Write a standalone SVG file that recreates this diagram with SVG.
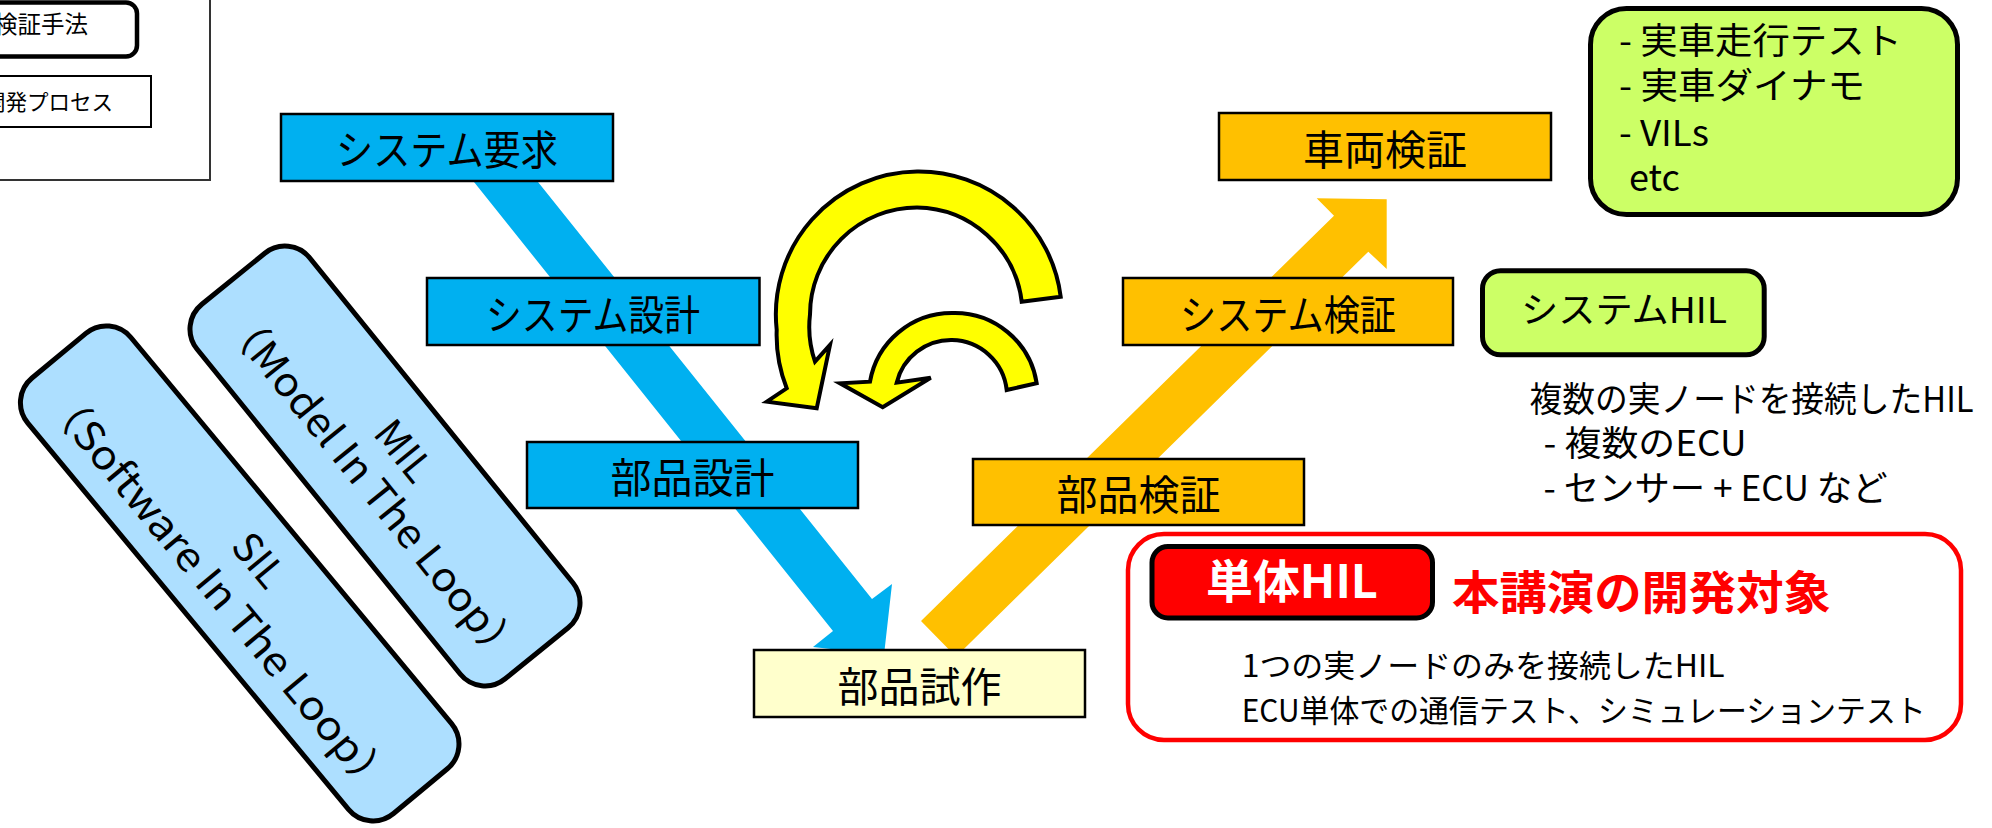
<svg xmlns="http://www.w3.org/2000/svg" width="1992" height="828" viewBox="0 0 1992 828">
<style>
text{font-family:"Noto Sans CJK JP","Noto Sans",sans-serif;fill:#000}
.blue{fill:#00B0F0;stroke:#000;stroke-width:2.5}
.org{fill:#FFC000;stroke:#000;stroke-width:2.5}
.lbl{font-size:41px;text-anchor:middle}
.grn{fill:#CCFF66;stroke:#000;stroke-width:5}
.lb{fill:#ADDFFF;stroke:#000;stroke-width:5}
.yel{fill:#FFFF00;stroke:#000;stroke-width:4;stroke-linejoin:miter}
.gt{font-size:36px}
.rt{font-size:31px}
</style>
<rect width="1992" height="828" fill="#fff"/>

<g id="legend">
<rect x="-10" y="-10" width="220" height="190" fill="#fff" stroke="#333" stroke-width="2"/>
<rect x="-30" y="2.5" width="167" height="54" rx="11" fill="#fff" stroke="#000" stroke-width="4.5"/>
<text x="-6" y="33" font-size="23.5">検証手法</text>
<rect x="-20" y="76" width="171" height="51" fill="#fff" stroke="#000" stroke-width="2"/>
<text x="-16" y="110" font-size="21.5">開発プロセス</text>
</g>

<g id="connectors">
<polygon id="arrow-down" fill="#00B0F0" points="464.4,170 528.4,170 872,599 892,584 884,655 813,647 833,631"/>
<polygon id="arrow-up" fill="#FFC000" points="921,621 1334,215.7 1316.7,198.3 1386.7,199.3 1386.7,269 1368.3,251.7 956,656.7"/>
<path id="loop-big" class="yel" d="M1060.7,296.7 A143,143 0 0 0 917,171.5 A143,143 0 0 0 776.7,330 A145,145 0 0 0 786.7,388.3 L766.7,401.7 L816.7,408.3 L830,345 L815,361.7 A107,107 0 0 1 810,314.5 A107,107 0 0 1 917,207.5 A107,107 0 0 1 1021.7,301.7 Z"/>
<path id="loop-small" class="yel" d="M1036.7,383.3 A83,83 0 0 0 952,313 A83,83 0 0 0 870,381.7 L840,383.3 L882.7,407.3 L930.7,377.7 L896.7,382.7 A56,56 0 0 1 952,340 A56,56 0 0 1 1006.7,390 Z"/>
</g>

<g id="n-mil" transform="translate(385,466) rotate(51)">
<rect class="lb" x="-241" y="-72.5" width="482" height="145" rx="32"/>
<text x="0" y="-10" font-size="40" text-anchor="middle">MIL</text>
<text x="9" y="37" font-size="40" text-anchor="middle" textLength="447" lengthAdjust="spacingAndGlyphs">（Model In The Loop）</text>
</g>

<g id="n-sil" transform="translate(239.7,573.4) rotate(50.3)">
<rect class="lb" x="-283" y="-67" width="566" height="134" rx="32"/>
<text x="2" y="-9" font-size="40" text-anchor="middle">SIL</text>
<text x="1" y="42" font-size="40" text-anchor="middle" textLength="519" lengthAdjust="spacingAndGlyphs">（Software In The Loop）</text>
</g>

<g id="n-sys-req">
<rect class="blue" x="281" y="114" width="332" height="67"/>
<text class="lbl" x="447" y="165" textLength="222" lengthAdjust="spacingAndGlyphs">システム要求</text>
</g>
<g id="n-sys-design">
<rect class="blue" x="427" y="278" width="332.5" height="67"/>
<text class="lbl" x="593" y="329.5" textLength="214" lengthAdjust="spacingAndGlyphs">システム設計</text>
</g>
<g id="n-part-design">
<rect class="blue" x="527" y="442" width="331" height="66"/>
<text class="lbl" x="692.5" y="493">部品設計</text>
</g>
<g id="n-prototype">
<rect x="754" y="650" width="331" height="67" fill="#FFFFCC" stroke="#000" stroke-width="2.5"/>
<text class="lbl" x="919.5" y="701.5">部品試作</text>
</g>
<g id="n-part-verify">
<rect class="org" x="973" y="459" width="331" height="66"/>
<text class="lbl" x="1138.5" y="509.5">部品検証</text>
</g>
<g id="n-sys-verify">
<rect class="org" x="1123" y="278" width="330" height="67"/>
<text class="lbl" x="1288" y="329.5" textLength="216" lengthAdjust="spacingAndGlyphs">システム検証</text>
</g>
<g id="n-vehicle-verify">
<rect class="org" x="1219" y="113" width="332" height="67"/>
<text class="lbl" x="1385" y="164.5">車両検証</text>
</g>

<g id="n-vehicle-methods">
<rect class="grn" x="1590.5" y="8.5" width="367" height="206" rx="36"/>
<text class="gt" x="1619" y="54" textLength="283" lengthAdjust="spacingAndGlyphs">- 実車走行テスト</text>
<text class="gt" x="1619" y="99" textLength="246" lengthAdjust="spacingAndGlyphs">- 実車ダイナモ</text>
<text class="gt" x="1619" y="146" textLength="90" lengthAdjust="spacingAndGlyphs">- VILs</text>
<text class="gt" x="1629" y="191">etc</text>
</g>

<g id="n-system-hil">
<rect class="grn" x="1482.5" y="270.8" width="281.7" height="84" rx="18"/>
<text class="gt" x="1624" y="323" text-anchor="middle" textLength="206" lengthAdjust="spacingAndGlyphs">システムHIL</text>
</g>

<g id="n-system-hil-desc">
<text font-size="35" x="1529.5" y="411.5" textLength="444" lengthAdjust="spacingAndGlyphs">複数の実ノードを接続したHIL</text>
<text font-size="35" x="1543.5" y="456" textLength="203" lengthAdjust="spacingAndGlyphs">- 複数のECU</text>
<text font-size="35" x="1543.5" y="501" textLength="344" lengthAdjust="spacingAndGlyphs">- センサー + ECU など</text>
</g>

<g id="n-unit-hil">
<rect x="1128" y="534" width="833" height="206" rx="36" fill="#fff" stroke="#FF0000" stroke-width="4.5"/>
<rect x="1152" y="546.5" width="280.5" height="71.5" rx="16" fill="#FF0000" stroke="#000" stroke-width="5"/>
<text x="1206" y="598" font-size="46" font-weight="bold" style="fill:#fff" textLength="172" lengthAdjust="spacingAndGlyphs">単体HIL</text>
<text x="1452" y="609" font-size="46" font-weight="bold" style="fill:#FF0000" textLength="379" lengthAdjust="spacingAndGlyphs">本講演の開発対象</text>
<text class="rt" x="1241.7" y="676.5" textLength="483" lengthAdjust="spacingAndGlyphs">1つの実ノードのみを接続したHIL</text>
<text class="rt" x="1241.7" y="721.5" textLength="684" lengthAdjust="spacingAndGlyphs">ECU単体での通信テスト、シミュレーションテスト</text>
</g>
</svg>
